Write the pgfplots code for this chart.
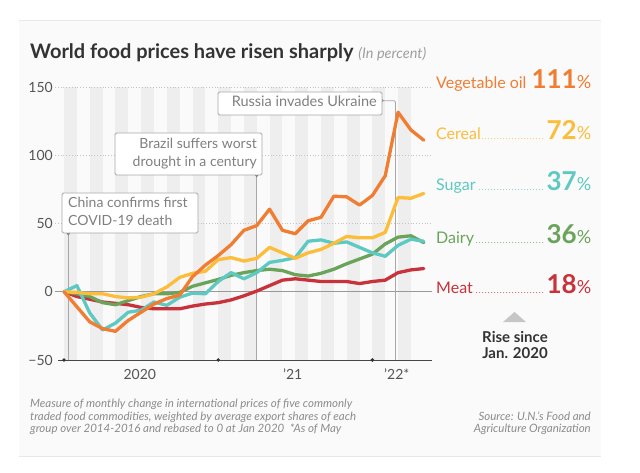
\documentclass[border=0pt]{standalone}
\usepackage{fontspec}
\setmainfont{Lato}
\usepackage{pgfplots}
\pgfplotsset{compat=1.18}
\definecolor{vegc}{HTML}{F07D32}
\definecolor{cerc}{HTML}{FBBD3A}
\definecolor{sugc}{HTML}{5DC9C2}
\definecolor{daic}{HTML}{6AA35A}
\definecolor{meac}{HTML}{C8323A}
\definecolor{panel}{HTML}{FAFAFA}
\definecolor{panelline}{HTML}{E8E8E8}
\definecolor{stripe}{HTML}{EEEEEE}
\definecolor{gridc}{HTML}{C4C4C4}
\definecolor{tickgray}{HTML}{555555}
\definecolor{annotc}{HTML}{A8A8A8}
\definecolor{annottext}{HTML}{808080}
\definecolor{titlec}{HTML}{333333}
\definecolor{footc}{HTML}{8C8C8C}

\newcommand{\rowlabel}[4]{%
\node[anchor=base west, inner sep=0pt, text=#1] at (436,#2) {\makebox[155pt][l]{\fontsize{16}{16}\selectfont #3\leaders\hbox to 3pt{\hss\fontsize{8}{8}\selectfont.\hss}\hfill{\fontsize{26}{26}\selectfont\bfseries #4}{\fontsize{18}{18}\selectfont\%}}};}

\begin{document}
\begin{tikzpicture}
\begin{scope}[x=1pt,y=1pt]
\fill[white] (0,0) rectangle (640,472);
\fill[panel] (19,16) rectangle (601,452);
\draw[panelline, line width=0.8pt] (19,452) -- (601,452);
\draw[panelline, line width=0.8pt] (19,16) -- (601,16);
\node[anchor=base west, inner sep=0pt, text=titlec] at (30,413) {\fontsize{20}{20}\selectfont\bfseries World food prices have risen sharply\ {\mdseries\itshape\fontsize{14.5}{14.5}\selectfont\color{gray!75}(In percent)}};
\end{scope}

\begin{axis}[at={(58pt,112pt)}, anchor=south west, scale only axis,
  width=374pt, height=273pt,
  xmin=-0.47, xmax=28.64, ymin=-50, ymax=150,
  axis line style={draw=none}, clip=false,
  ytick={-50,0,50,100,150}, yticklabels={−50,0,50,100,150},
  xtick={5.9,17.8,25.9}, xticklabels={2020,’21,’22*},
  major tick length=0pt,
  tick label style={font=\fontsize{14}{14}\selectfont, text=tickgray},
  yticklabel style={anchor=east, inner sep=0pt, xshift=-5pt},
  xticklabel style={anchor=north, inner sep=0pt, yshift=-9pt},
  every axis plot/.append style={line width=3.3pt, line join=round, line cap=round, mark=none}]

\pgfplotsinvokeforeach{0,2,...,26}{\fill[stripe] (axis cs:#1,-50) rectangle (axis cs:{#1+1},150);}
\draw[gridc, dotted, line width=0.8pt] (axis cs:-0.7,50) -- (axis cs:28.64,50);
\draw[gridc, dotted, line width=0.8pt] (axis cs:-0.7,100) -- (axis cs:28.64,100);
\draw[gridc, dotted, line width=0.8pt] (axis cs:-0.7,150) -- (axis cs:28.64,150);
\draw[gray!80, line width=0.9pt] (axis cs:-0.7,0) -- (axis cs:28.64,0);

\draw[annotc, line width=0.8pt] (axis cs:0.33,-50) -- (axis cs:0.33,42.6);
\fill[gray] (axis cs:0.33,42.6) circle (1.7pt);
\draw[annotc, line width=0.8pt] (axis cs:15,-50) -- (axis cs:15,85.3);
\fill[gray] (axis cs:15,85.3) circle (1.7pt);
\draw[annotc, line width=0.8pt, rounded corners=2pt] (axis cs:25.8,-50) -- (axis cs:25.8,140) -- (axis cs:24.75,140);
\fill[gray] (axis cs:24.75,140) circle (1.7pt);

\draw[titlec!90, line width=0.8pt] (axis cs:-0.47,-50) -- (axis cs:28.64,-50);
\fill[titlec] (axis cs:0,-50) circle (1.9pt);
\fill[titlec] (axis cs:12,-50) circle (1.9pt);
\fill[titlec] (axis cs:24,-50) circle (1.9pt);

% Meat
\addplot[meac] coordinates {(0,0)(1,-3.5)(2,-5.5)(3,-7.5)(4,-8.5)(5,-9.5)(6,-11.5)(7,-12.5)(8,-12.5)(9,-12.5)(10,-10.5)(11,-9)(12,-8)(13,-6)(14,-3)(15,0.5)(16,4.5)(17,8.5)(18,9.5)(19,8.5)(20,7.5)(21,7.5)(22,7.5)(23,6)(24,7.5)(25,8.5)(26,14)(27,16)(28,17)};
% Dairy
\addplot[daic] coordinates {(0,0)(1,-1.5)(2,-3.5)(3,-8)(4,-9.5)(5,-6.5)(6,-3.5)(7,-1.5)(8,-1.5)(9,-0.5)(10,4)(11,6.5)(12,9)(13,12)(14,14)(15,15.5)(16,16.5)(17,15.5)(18,12.5)(19,11.5)(20,13.5)(21,16.5)(22,20.5)(23,24)(24,27.5)(25,35)(26,40)(27,41)(28,36)};
% Sugar
\addplot[sugc] coordinates {(0,0)(1,4.5)(2,-15.5)(3,-28)(4,-23)(5,-15)(6,-13.5)(7,-7.5)(8,-10)(9,-4)(10,-1)(11,-1.5)(12,7.5)(13,14)(14,9.5)(15,14)(16,21.5)(17,23)(18,25)(19,37)(20,38)(21,35.5)(22,36.5)(23,32.5)(24,28.5)(25,26)(26,34)(27,38.5)(28,37)};
% Cereal
\addplot[cerc] coordinates {(0,0)(1,-0.5)(2,-1.5)(3,-1.5)(4,-3.5)(5,-4.5)(6,-4)(7,-1.5)(8,3.5)(9,10.5)(10,13.5)(11,15)(12,23.5)(13,25)(14,22.5)(15,24.5)(16,32.5)(17,28.5)(18,24.5)(19,28.5)(20,31)(21,35.5)(22,40.5)(23,39.5)(24,39.5)(25,43.5)(26,69)(27,68.5)(28,72)};
% Vegetable oil
\addplot[vegc] coordinates {(0,0)(1,-11)(2,-22)(3,-27)(4,-29)(5,-21)(6,-15)(7,-9)(8,-5)(9,-2.5)(10,11)(11,19.5)(12,26.5)(13,34.5)(14,45)(15,48.5)(16,60.5)(17,45)(18,42.5)(19,52)(20,54.5)(21,70)(22,69.5)(23,63.5)(24,70.5)(25,85)(26,131.5)(27,118.5)(28,111)};
\end{axis}

\begin{scope}[x=1pt,y=1pt]
% annotation boxes
\draw[annotc, fill=white, line width=0.8pt, rounded corners=1.5pt] (62,239) rectangle (198,279);
\node[anchor=base west, inner sep=0pt, text=annottext] at (68,264) {\fontsize{14}{14}\selectfont China confirms first};
\node[anchor=base west, inner sep=0pt, text=annottext] at (68,246) {\fontsize{14}{14}\selectfont COVID-19 death};

\draw[annotc, fill=white, line width=0.8pt, rounded corners=1.5pt] (115,297) rectangle (262,339);
\node[anchor=base east, inner sep=0pt, text=annottext] at (257,323) {\fontsize{14}{14}\selectfont Brazil suffers worst};
\node[anchor=base east, inner sep=0pt, text=annottext] at (257,305) {\fontsize{14}{14}\selectfont drought in a century};

\draw[annotc, fill=white, line width=0.8pt, rounded corners=1.5pt] (218,357) rectangle (382,380);
\node[anchor=base east, inner sep=0pt, text=annottext] at (377,365.5) {\fontsize{14.5}{14.5}\selectfont Russia invades Ukraine};

% right labels
\rowlabel{vegc}{383.7}{Vegetable oil}{111}
\rowlabel{cerc}{332}{Cereal}{72}
\rowlabel{sugc}{281}{Sugar}{37}
\rowlabel{daic}{229}{Dairy}{36}
\rowlabel{meac}{179}{Meat}{18}

\fill[gray!45] (503,150) -- (526,150) -- (514.5,160) -- cycle;
\node[anchor=base, inner sep=0pt, text=titlec] at (515,130) {\fontsize{15}{15}\selectfont\bfseries Rise since};
\node[anchor=base, inner sep=0pt, text=titlec] at (515,114) {\fontsize{15}{15}\selectfont\bfseries Jan. 2020};

% footer
\node[anchor=base west, inner sep=0pt, text=footc] at (30,64.5) {\fontsize{11.5}{11.5}\selectfont\itshape Measure of monthly change in international prices of five commonly};
\node[anchor=base west, inner sep=0pt, text=footc] at (30,52) {\fontsize{11.5}{11.5}\selectfont\itshape traded food commodities, weighted by average export shares of each};
\node[anchor=base west, inner sep=0pt, text=footc] at (30,39.5) {\fontsize{11.5}{11.5}\selectfont\itshape group over 2014-2016 and rebased to 0 at Jan 2020\ \ *As of May};
\node[anchor=base east, inner sep=0pt, text=footc] at (591,52) {\fontsize{11.5}{11.5}\selectfont\itshape Source: U.N.’s Food and};
\node[anchor=base east, inner sep=0pt, text=footc] at (591,39.5) {\fontsize{11.5}{11.5}\selectfont\itshape Agriculture Organization};
\end{scope}
\end{tikzpicture}
\end{document}
